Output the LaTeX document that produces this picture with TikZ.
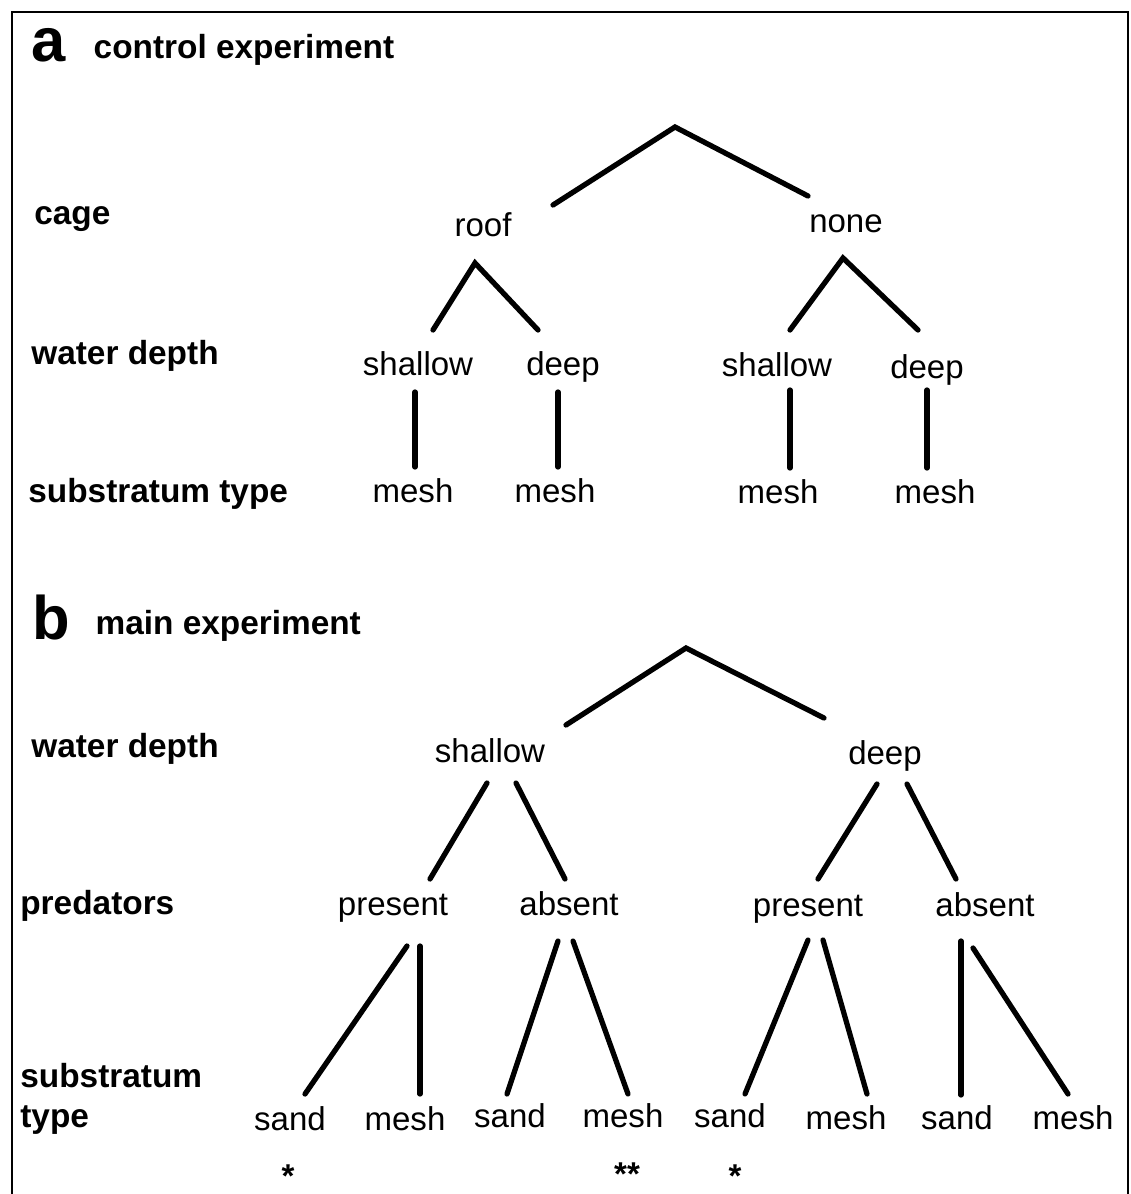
\documentclass[tikz,border=0pt]{standalone}
\usepackage{fontspec}
\setmainfont{Liberation Sans}
\usetikzlibrary{positioning}

\begin{document}
\begin{tikzpicture}[
    x=0.02cm, y=-0.02cm,
    panel/.style={
        inner sep=0pt, anchor=base west,
        font=\fontsize{35}{40}\selectfont\bfseries
    },
    heading/.style={
        inner sep=0pt,
        font=\fontsize{19}{22}\selectfont\bfseries
    },
    factor/.style={
        inner sep=0pt, anchor=west,
        text height=18pt, text depth=4pt,
        font=\fontsize{19}{22}\selectfont\bfseries
    },
    level/.style={
        inner sep=0pt,
        text height=18pt, text depth=4pt,
        font=\fontsize{18.8}{22}\selectfont
    },
    signif/.style={
        inner sep=0pt, anchor=base,
        font=\fontsize{18.8}{22}\selectfont\bfseries
    },
    branch/.style={line width=3pt, line cap=round},
    frame/.style={line width=1.3pt}
]
\useasboundingbox (0,0) rectangle (1131,1194);

% Frame
\draw[frame] (12,1194) -- (12,12) -- (1128,12) -- (1128,1194);

% Panel a
\node[panel] (labA) at (31,61) {a};
\node[heading,right=0.55cm of labA.base east,anchor=base west,yshift=0.05cm] (titleA) {control experiment};
\node[factor] (cageA) at (34,212) {cage};
\node[factor] (depthA) at (31,352) {water depth};
\node[factor] (subA) at (28,490) {substratum type};

\coordinate (topA) at (675,127);
\node[level] (roof) at (483,224) {roof};
\node[level] (none) at (846,220) {none};
\node[level] (shallowR) at (418,363) {shallow};
\node[level] (deepR) at (563,363) {deep};
\node[level] (shallowN) at (777,364) {shallow};
\node[level] (deepN) at (927,366) {deep};
\node[level] (meshRS) at (413,490) {mesh};
\node[level] (meshRD) at (555,490) {mesh};
\node[level] (meshNS) at (778,491) {mesh};
\node[level] (meshND) at (935,491) {mesh};

\draw[branch] ([shift={(70,-19)}]roof.center) -- (topA) -- ([shift={(-38,-24)}]none.center);
\draw[branch] ([shift={(15,-33)}]shallowR.center) -- ([shift={(-8,39)}]roof.center) -- ([shift={(-25,-33)}]deepR.center);
\draw[branch] ([shift={(13,-34)}]shallowN.center) -- ([shift={(-3,38)}]none.center) -- ([shift={(-9,-36)}]deepN.center);
\draw[branch] ([shift={(-3,29)}]shallowR.center) -- ([shift={(2,-23)}]meshRS.center);
\draw[branch] ([shift={(-5,29)}]deepR.center) -- ([shift={(3,-23)}]meshRD.center);
\draw[branch] ([shift={(13,26)}]shallowN.center) -- ([shift={(12,-23)}]meshNS.center);
\draw[branch] ([shift={(0,24)}]deepN.center) -- ([shift={(-8,-23)}]meshND.center);

% Panel b
\node[panel] (labB) at (32,639) {b};
\node[heading,right=0.5cm of labB.base east,anchor=base west,yshift=0.1cm] (titleB) {main experiment};
\node[factor] (depthB) at (31,745) {water depth};
\node[factor] (predB) at (20,902) {predators};
\node[factor] (subB) at (20,1075) {substratum};
\node[factor] (typeB) at (20,1115) {type};

\coordinate (topB) at (686,648);
\node[level] (shallowB) at (490,750) {shallow};
\node[level] (deepB) at (885,752) {deep};
\node[level] (presS) at (393,903) {present};
\node[level] (absS) at (569,903) {absent};
\node[level] (presD) at (808,904) {present};
\node[level] (absD) at (985,904) {absent};
\node[level] (sand1) at (290,1118) {sand};
\node[level] (mesh1) at (405,1118) {mesh};
\node[level] (sand2) at (510,1115) {sand};
\node[level] (mesh2) at (623,1115) {mesh};
\node[level] (sand3) at (730,1115) {sand};
\node[level] (mesh3) at (846,1117) {mesh};
\node[level] (sand4) at (957,1117) {sand};
\node[level] (mesh4) at (1073,1117) {mesh};

\draw[branch] ([shift={(76,-25)}]shallowB.center) -- (topB) -- ([shift={(-61,-34)}]deepB.center);
\draw[branch] ([shift={(-3,33)}]shallowB.center) -- ([shift={(37,-24)}]presS.center);
\draw[branch] ([shift={(26,33)}]shallowB.center) -- ([shift={(-4,-24)}]absS.center);
\draw[branch] ([shift={(-8,32)}]deepB.center) -- ([shift={(10,-25)}]presD.center);
\draw[branch] ([shift={(22,32)}]deepB.center) -- ([shift={(-29,-25)}]absD.center);
\draw[branch] ([shift={(14,43)}]presS.center) -- ([shift={(15,-24)}]sand1.center);
\draw[branch] ([shift={(27,43)}]presS.center) -- ([shift={(15,-24)}]mesh1.center);
\draw[branch] ([shift={(-11,38)}]absS.center) -- ([shift={(-3,-21)}]sand2.center);
\draw[branch] ([shift={(4,38)}]absS.center) -- ([shift={(5,-21)}]mesh2.center);
\draw[branch] ([shift={(0,36)}]presD.center) -- ([shift={(15,-21)}]sand3.center);
\draw[branch] ([shift={(15,36)}]presD.center) -- ([shift={(21,-23)}]mesh3.center);
\draw[branch] ([shift={(-24,37)}]absD.center) -- ([shift={(4,-22)}]sand4.center);
\draw[branch] ([shift={(-12,44)}]absD.center) -- ([shift={(-5,-23)}]mesh4.center);

% Significance
\node[signif] (star1) at (288,1187) {*};
\node[signif] (star2) at (627,1185) {**};
\node[signif] (star3) at (735,1187) {*};

\end{tikzpicture}
\end{document}
